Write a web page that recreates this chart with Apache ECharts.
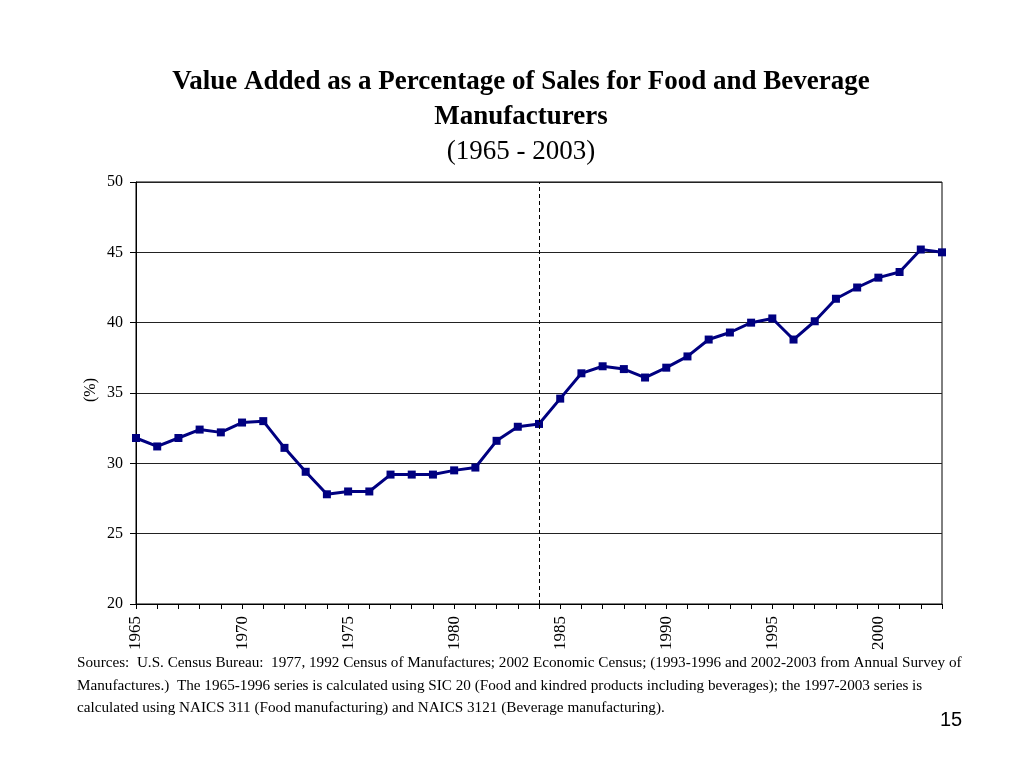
<!DOCTYPE html>
<html>
<head>
<meta charset="utf-8">
<script src="https://cdn.jsdelivr.net/npm/echarts@6/dist/echarts.min.js"></script>
<style>
  html, body { margin: 0; padding: 0; background: #fff; }
  #chart { width: 1024px; height: 768px; }
</style>
</head>
<body>
<div id="chart"></div>
<script>
"use strict";

// Years on the x axis
const years = [];
for (let y = 1965; y <= 2003; y++) years.push(String(y));

// Value added as % of sales
const valueAdded = [
    31.8, 31.2, 31.8, 32.4, 32.2, 32.9, 33.0, 31.1, 29.4, 27.8,
    28.0, 28.0, 29.2, 29.2, 29.2, 29.5, 29.7, 31.6, 32.6, 32.8,
    34.6, 36.4, 36.9, 36.7, 36.1, 36.8, 37.6, 38.8, 39.3, 40.0,
    40.3, 38.8, 40.1, 41.7, 42.5, 43.2, 43.6, 45.2, 45.0
];

// Year of the vertical dashed line (SIC / NAICS break)
const breakYear = '1984';

const titleLines = [
    'Value Added as a Percentage of Sales for Food and Beverage',
    'Manufacturers',
    '(1965 - 2003)'
];

const sourceLines = [
    'Sources:  U.S. Census Bureau:  1977, 1992 Census of Manufactures; 2002 Economic Census; (1993-1996 and 2002-2003 from Annual Survey of',
    'Manufactures.)  The 1965-1996 series is calculated using SIC 20 (Food and kindred products including beverages); the 1997-2003 series is',
    'calculated using NAICS 311 (Food manufacturing) and NAICS 3121 (Beverage manufacturing).'
];

const serif = '"Liberation Serif", "Times New Roman", serif';

var myChart = echarts.init(document.getElementById('chart'));

// texte centré
function centerText(text, x, y, font) {
    return {
        type: 'text', x: x, y: y,
        style: { text: text, font: font, fill: '#000', textAlign: 'center', textVerticalAlign: 'middle' }
    };
}

function leftText(text, x, y, font) {
    return {
        type: 'text', x: x, y: y,
        style: { text: text, font: font, fill: '#000', textVerticalAlign: 'middle' }
    };
}

var option = {
    animation: false,
    backgroundColor: '#fff',
    grid: {
        left: 136, right: 82, top: 182, bottom: 164,
        show: true, borderColor: '#000', borderWidth: 1
    },
    graphic: [
        centerText(titleLines[0], 521, 82, 'bold 27px ' + serif),
        centerText(titleLines[1], 521, 117, 'bold 27px ' + serif),
        centerText(titleLines[2], 521, 152, '27px ' + serif),
        Object.assign(centerText('(%)', 91, 390, '16px ' + serif), { rotation: Math.PI / 2 }),
        leftText(sourceLines[0], 77, 663, '15.2px ' + serif),
        leftText(sourceLines[1], 77, 686, '15.2px ' + serif),
        leftText(sourceLines[2], 77, 708, '15.2px ' + serif),
        centerText('15', 951, 720, '20px "Liberation Sans", Arial, sans-serif')
    ],
    xAxis: {
        type: 'category',
        data: years,
        boundaryGap: false,
        axisLine: { lineStyle: { color: '#000', width: 1 } },
        axisTick: {
            show: true, interval: 0, length: 5, inside: false,
            lineStyle: { color: '#000' }
        },
        axisLabel: {
            interval: 4, rotate: 90, margin: 12,
            fontFamily: serif, fontSize: 17, color: '#000'
        },
        splitLine: { show: false }
    },
    yAxis: {
        type: 'value',
        min: 20, max: 50, interval: 5,
        axisLine: { show: true, lineStyle: { color: '#000', width: 1 } },
        axisTick: { show: true, length: 6, lineStyle: { color: '#000' } },
        axisLabel: {
            fontFamily: serif, fontSize: 16, color: '#000', margin: 13
        },
        splitLine: { show: true, lineStyle: { color: '#222', width: 1 } }
    },
    series: [{
        type: 'line',
        data: valueAdded,
        symbol: 'rect',
        symbolSize: 8,
        lineStyle: { color: '#000080', width: 3 },
        itemStyle: { color: '#000080' },
        markLine: {
            silent: true,
            symbol: 'none',
            label: { show: false },
            lineStyle: { color: '#000', type: [4, 3], width: 1 },
            data: [{ xAxis: breakYear }]
        }
    }]
};

myChart.setOption(option);
</script>
</body>
</html>
